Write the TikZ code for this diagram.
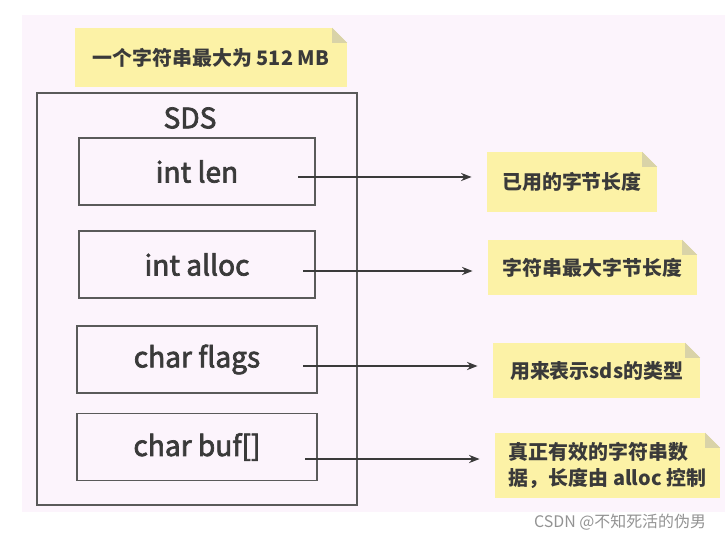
\documentclass[tikz,border=0pt]{standalone}
\usepackage{fontspec}
\setmainfont{Noto Sans CJK SC}
\newfontfamily\fieldfont{Noto Sans CJK SC}[FakeBold=2.5]
\usetikzlibrary{arrows.meta,calc}
\definecolor{bgpink}{HTML}{FCF4FC}
\definecolor{notey}{HTML}{FCF2A6}
\definecolor{foldc}{HTML}{D9D3A8}
\definecolor{linec}{HTML}{5A5A5A}
\definecolor{textc}{HTML}{3A3A3A}
\tikzset{
>={Stealth[length=9pt,width=7pt]},
field/.style={draw=linec,line width=1.2pt,minimum height=2.01cm,font=\fieldfont\fontsize{24}{28}\selectfont,text=textc},
note/.style={fill=notey,inner sep=0pt,font=\bfseries\fontsize{17}{22}\selectfont,text=textc},
pointer/.style={->,draw=textc,line width=1.1pt,shorten >=13pt}}

\begin{document}
\begin{tikzpicture}[x=0.03cm,y=-0.03cm]

\useasboundingbox (0,0) rectangle (725,539);
\fill[bgpink] (22,15) rectangle (725,512);

% sds struct
\node[draw=linec,line width=1.2pt,minimum width=9.6cm,minimum height=12.36cm] (sds) at (197,299) {};
\node[font=\fieldfont\fontsize{24}{28}\selectfont,text=textc] (title) at (190,118) {SDS};

\node[field,minimum width=7.08cm] (len) at (197,171.5) {int len};
\node[field,minimum width=7.08cm] (alloc) at (197,264.5) {int alloc};
\node[field,minimum width=7.2cm] (flags) at (197,359.5) {char flags};
\node[field,minimum width=7.2cm] (buf) at (197,447) {char buf[]};

% notes
\node[note,minimum width=8.16cm,minimum height=1.77cm] (top) at (211,57.5) {一个字符串最大为 512 MB};
\node[note,minimum width=5.1cm,minimum height=1.8cm] (n1) at (572,182) {已用的字节长度};
\node[note,minimum width=6.27cm,minimum height=1.65cm] (n2) at (592.5,267.5) {字符串最大字节长度};
\node[note,minimum width=6.21cm,minimum height=1.65cm] (n3) at (596.5,370.5) {用来表示sds的类型};
\node[note,minimum width=6.75cm,minimum height=1.95cm,align=left] (n4) at (607.5,465.5) {真正有效的字符串数\\据，长度由 alloc 控制};

\foreach \n in {top,n1,n2,n3,n4} {
  \fill[bgpink] (\n.north east) -- ++(-15,0) -- ++(15,15) -- cycle;
  \fill[foldc] ($(\n.north east)+(-15,0)$) -- ++(0,15) -- ++(15,0) -- cycle;
}

\coordinate (s1) at (298,177);
\coordinate (s2) at (303,271);
\coordinate (s3) at (303,366);
\coordinate (s4) at (305,459);

\foreach \i in {1,...,4}
  \draw[pointer] (s\i) -- (s\i -| n\i.west);

\node[font=\fontsize{13.6}{16}\selectfont,text=gray!85] (mark) at (620,522) {CSDN @不知死活的伪男};
\end{tikzpicture}
\end{document}
